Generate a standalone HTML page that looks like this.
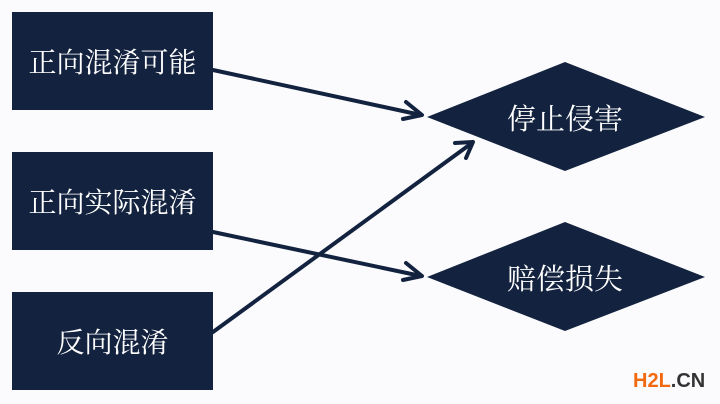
<!DOCTYPE html>
<html><head><meta charset="utf-8"><style>
body{margin:0;width:720px;height:404px;background:#fbfbfd;overflow:hidden;position:relative;font-family:"Liberation Serif","Noto Serif CJK SC",serif}
.b{position:absolute;left:12px;width:201px;height:98px;background:#13233f;color:#fff;font-size:28px;display:flex;align-items:center;justify-content:center}
.t{position:absolute;color:#fff;font-size:29px;width:200px;text-align:center}
.w{position:absolute;left:633px;top:370px;font:bold 20px "Liberation Sans",sans-serif;letter-spacing:0px}
</style></head><body>
<div class="b" style="top:12px">正向混淆可能</div>
<div class="b" style="top:152px">正向实际混淆</div>
<div class="b" style="top:292px">反向混淆</div>
<svg width="720" height="404" style="position:absolute;left:0;top:0">
<polygon points="427,117 565,62 705,117 565,171" fill="#13233f"/>
<polygon points="427,277 565,222 705,277 565,331" fill="#13233f"/>
<g stroke="#13233f" stroke-width="4" fill="none" stroke-linecap="round" stroke-linejoin="round">
<line x1="213" y1="70" x2="421" y2="115"/>
<polyline points="406,102 422,115 403,119"/>
<line x1="213" y1="232" x2="421" y2="276"/>
<polyline points="406,263 422,276 403,280"/>
<line x1="213" y1="332" x2="472" y2="143"/>
<polyline points="455,143 473,142 466,158"/>
</g>
</svg>
<div class="t" style="left:465px;top:97px">停止侵害</div>
<div class="t" style="left:465px;top:257px">赔偿损失</div>
<div class="w"><span style="color:#f26a10">H2L</span><span style="color:#333">.CN</span></div>
</body></html>
